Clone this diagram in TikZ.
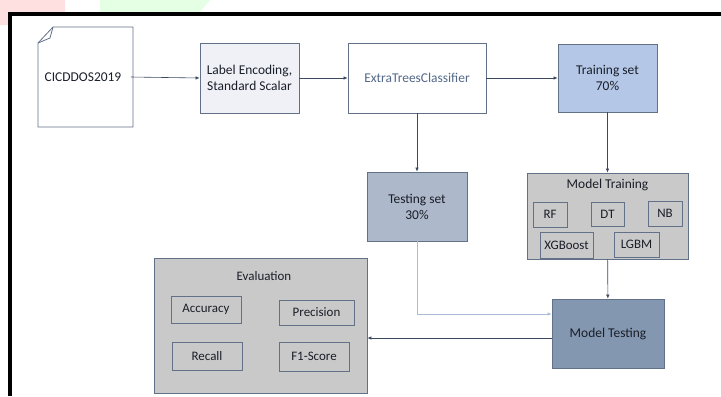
\documentclass[tikz,border=0pt]{standalone}
\usepackage{fontspec}
\setmainfont{Carlito}
\usepackage{xcolor}
\usepackage{tikz}
\usetikzlibrary{arrows.meta, positioning, calc}

\definecolor{edgecol}{RGB}{98,112,136}
\definecolor{txtcol}{RGB}{26,30,40}
\definecolor{etctxt}{RGB}{84,104,138}
\definecolor{encfill}{RGB}{239,241,247}
\definecolor{trainfill}{RGB}{180,199,231}
\definecolor{testfill}{RGB}{173,185,202}
\definecolor{grayfill}{RGB}{201,201,201}
\definecolor{mtestfill}{RGB}{132,151,176}
\definecolor{arrcol}{RGB}{58,72,96}
\definecolor{lightarr}{RGB}{170,188,214}

\begin{document}
\begin{tikzpicture}[
    x=1bp, y=-1bp,
    box/.style={rectangle, draw=edgecol, line width=0.8bp, inner sep=0pt, align=center, font=\fontsize{13.5}{16}\selectfont, text=txtcol},
    sbox/.style={box, font=\fontsize{13}{15}\selectfont},
    arr/.style={-{Latex[length=4bp, width=3.5bp]}, line width=0.6bp, color=arrcol}
]

% page and faint marks in the corner
\useasboundingbox (0,0) rectangle (721,396);
\fill[red!12] (0,0) rectangle (65,12) (0,12) rectangle (8,25);
\fill[green!10] (100,0) -- (210,0) -- (200,12) -- (100,12) -- cycle;
\draw[line width=4bp, black] (10,396) -- (10,14) -- (721,14);

% top row
\node[box, draw=none, minimum width=95bp, minimum height=100bp] (data) at (83,77) {CICDDOS2019};
\draw[edgecol, line width=0.8bp] (53,27) -- (133,27) -- (133,127) -- (38,127) -- (38,43) -- cycle;
\draw[edgecol, line width=0.8bp] (53,27) -- (50,38) -- (38,43);
\node[box, fill=encfill, minimum width=99bp, minimum height=70bp] (enc) at (249.5,78) {Label Encoding,\\Standard Scalar};
\node[box, fill=white, text=etctxt, minimum width=138bp, minimum height=70bp] (etc) at (417,78) {ExtraTreesClassifier};
\node[box, fill=trainfill, minimum width=99bp, minimum height=68bp] (train) at (607.5,78) {Training set\\70\%};

% middle row
\node[box, fill=testfill, minimum width=100bp, minimum height=69bp] (test) at (417,206.5) {Testing set\\30\%};
\node[box, fill=grayfill, minimum width=161bp, minimum height=86bp] (mtrain) at (607.5,216) {};
\node[font=\fontsize{13.5}{16}\selectfont, text=txtcol] (mtraintitle) at (607.5,185) {Model Training};
\node[sbox, minimum width=34bp, minimum height=25bp] (rf) at (550,214.5) {RF};
\node[sbox, minimum width=33bp, minimum height=24bp] (dt) at (607.5,214) {DT};
\node[sbox, minimum width=34bp, minimum height=25bp] (nb) at (665,213.5) {NB};
\node[sbox, minimum width=53bp, minimum height=26bp] (xgb) at (566.5,245) {XGBoost};
\node[sbox, minimum width=45bp, minimum height=25bp] (lgbm) at (636.5,244.5) {LGBM};

% bottom row
\node[box, fill=mtestfill, minimum width=112bp, minimum height=69bp] (mtest) at (608,333.5) {Model Testing};
\node[box, fill=grayfill, minimum width=213bp, minimum height=135bp] (eval) at (260.5,325.5) {};
\node[font=\fontsize{13}{16}\selectfont, text=txtcol] (evaltitle) at (264,276) {Evaluation};
\node[sbox, minimum width=70bp, minimum height=27bp] (acc) at (206,309.5) {Accuracy};
\node[sbox, minimum width=75bp, minimum height=25bp] (prec) at (316.5,312.5) {Precision};
\node[sbox, minimum width=70bp, minimum height=28bp] (rec) at (207,356) {Recall};
\node[sbox, minimum width=70bp, minimum height=29bp] (fone) at (314,356.5) {F1-Score};

\coordinate (mtin) at ($(mtest.west)+(0,-19.5)$);
\coordinate (mtout) at ($(mtest.west)+(0,4.5)$);

\draw[arr] (data.east) -- (enc.west);
\draw[arr] (enc) -- (etc);
\draw[arr] (etc) -- (train);
\draw[arr] (etc) -- (test);
\draw[arr] (train) -- (mtrain);
\draw[arr] (mtrain) -- (mtest);
\draw[arr, color=lightarr] (test.south) |- (mtin);
\draw[arr] (mtout) -- (eval.east |- mtout);

\end{tikzpicture}
\end{document}
